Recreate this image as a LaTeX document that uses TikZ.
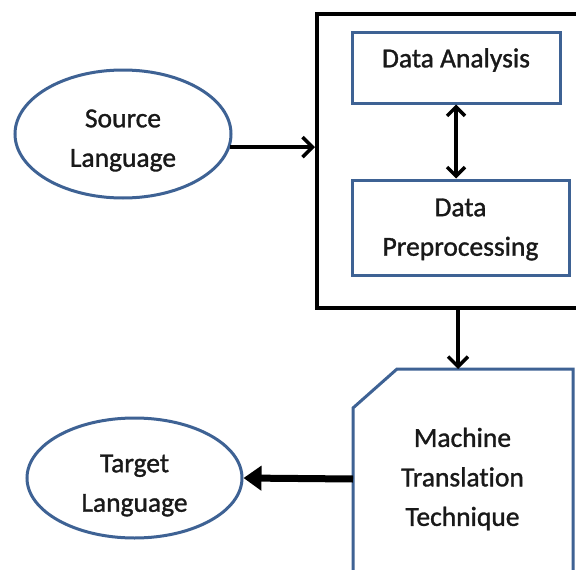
\documentclass[tikz,border=0pt]{standalone}
\usepackage{fontspec}
\setmainfont{Carlito}
\newfontfamily\lblfont{Carlito}[FakeBold=1.2,RawFeature={-liga;-clig;-calt;-dlig}]
\usetikzlibrary{arrows.meta,shapes.geometric,calc}
\definecolor{bblue}{RGB}{62,98,148}
\definecolor{txt}{RGB}{25,25,25}
\begin{document}
\begin{tikzpicture}[x=1pt,y=-1pt,
  lbl/.style={font=\lblfont\fontsize{27.5}{39.5}\selectfont, text=txt, align=center, inner sep=0pt},
  bbox/.style={draw=bblue, line width=3pt, inner sep=0pt},
  oval/.style={ellipse, draw=bblue, line width=3pt, inner sep=0pt},
  conn/.style={line width=3.5pt, -{Straight Barb[length=10pt,width=20pt,line width=3.5pt]}},
  dconn/.style={line width=3.5pt, {Straight Barb[length=9pt,width=18pt,line width=3.5pt]}-{Straight Barb[length=9pt,width=18pt,line width=3.5pt]}},
  heavy conn/.style={line width=7pt, -{Triangle[length=18pt,width=24pt]}}
]
\clip (0,0) rectangle (576,570);
\fill[white] (0,0) rectangle (576,570);
% outer process box
\node[draw=black, line width=4pt, minimum width=273pt, minimum height=294pt, inner sep=0pt] (proc) at (453.5,161) {};
\node[bbox, minimum width=208pt, minimum height=71pt] (da) at (456,67.5) {};
\node[lbl] (dat) at ($(da)+(0,-7.5)$) {Data Analysis};
\node[bbox, minimum width=217pt, minimum height=95pt] (dp) at (460.5,227.5) {};
\node[lbl] (dpt) at ($(dp)+(0,2)$) {Data\\Preprocessing};
\draw[dconn] (da.south) -- (da.south |- dp.north);
% source / target
\node[oval, minimum width=216pt, minimum height=128pt] (src) at (123,134) {};
\node[lbl] (srct) at ($(src)+(0,6.5)$) {Source\\Language};
\node[oval, minimum width=215pt, minimum height=120pt] (tgt) at (134.5,478) {};
\node[lbl] (tgtt) at ($(tgt)+(0,7.5)$) {Target\\Language};
\draw[conn] (src.-7) -- (src.-7 -| proc.west);
% machine translation shape
\coordinate (mtleft) at (353,479);
\coordinate (mttop) at (458,369);
\draw[bblue, line width=3pt, line join=miter] (353,600) -- (353,408) -- (397,369) -- (573,369) -- (573,600);
\node[lbl] (mt) at (462.5,479) {Machine\\Translation\\Technique};
\draw[conn] (mttop |- proc.south) -- (mttop);
\draw[heavy conn] (mtleft) -- (tgt.east);
\end{tikzpicture}
\end{document}
